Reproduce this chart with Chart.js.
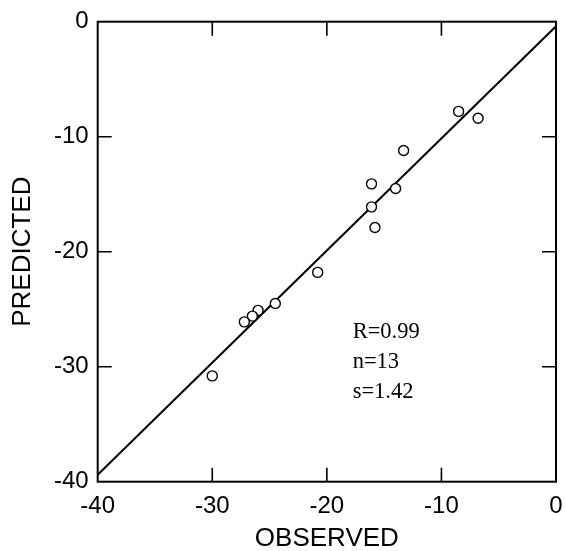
<!DOCTYPE html>
<html>
<head>
<meta charset="utf-8">
<title>Observed vs Predicted</title>
<script src="https://cdn.jsdelivr.net/npm/chart.js@4.4.1/dist/chart.umd.min.js"></script>
<style>
    html, body {
        margin: 0;
        padding: 0;
        background: #fff;
    }
    canvas {
        display: block;
    }
</style>
</head>
<body>
<canvas id="scatterChart" width="566" height="551"></canvas>
<script>
/* =========================================================
   DATA
========================================================= */
const observed = [-8.5, -6.8, -13.3, -16.1, -14.0, -16.1, -15.8, -20.8, -24.5, -26.0, -26.5, -27.2, -30.0];
const predicted = [-7.8, -8.4, -11.2, -14.1, -14.5, -16.1, -17.9, -21.8, -24.5, -25.1, -25.6, -26.1, -30.8];

// regression line end points
const fitObserved = [-40, 0];
const fitPredicted = [-39.4, -0.4];

const axisTicks = [-40, -30, -20, -10, 0];
const statsLines = ['R=0.99', 'n=13', 's=1.42'];

/* =========================================================
   HELPER
========================================================= */
function toPoints(xs, ys) {
    return xs.map((x, i) => ({ x: x, y: ys[i] }));
}

/* =========================================================
   FRAME + INWARD TICKS + STATS TEXT
========================================================= */
const framePlugin = {
    id: 'frame',
    afterDatasetsDraw(chart) {
        const { ctx, chartArea: a, scales: { x, y } } = chart;
        const tickLen = 14;

        ctx.save();
        ctx.strokeStyle = '#000';
        ctx.lineWidth = 2;
        ctx.strokeRect(a.left, a.top, a.right - a.left, a.bottom - a.top);

        ctx.lineWidth = 1.6;
        ctx.beginPath();
        axisTicks.slice(1, -1).forEach(v => {
            const px = x.getPixelForValue(v);
            const py = y.getPixelForValue(v);
            ctx.moveTo(px, a.bottom);
            ctx.lineTo(px, a.bottom - tickLen);
            ctx.moveTo(px, a.top);
            ctx.lineTo(px, a.top + tickLen);
            ctx.moveTo(a.left, py);
            ctx.lineTo(a.left + tickLen, py);
            ctx.moveTo(a.right, py);
            ctx.lineTo(a.right - tickLen, py);
        });
        ctx.stroke();

        // regression statistics
        ctx.fillStyle = '#000';
        ctx.font = '22.5px "Liberation Serif", "Times New Roman", serif';
        ctx.textAlign = 'left';
        ctx.textBaseline = 'alphabetic';
        const tx = x.getPixelForValue(-17.75);
        const ty = y.getPixelForValue(-27.5);
        statsLines.forEach((line, i) => {
            ctx.fillText(line, tx, ty + i * 30);
        });
        ctx.restore();
    }
};

/* =========================================================
   CHART INIT
========================================================= */
const tickFont = { family: '"Liberation Sans", Arial, sans-serif', size: 24 };
const titleFont = { family: '"Liberation Sans", Arial, sans-serif', size: 26, lineHeight: 1 };

const scatterChart = new Chart(
    document.getElementById('scatterChart'), {
        type: 'scatter',
        data: {
            datasets: [{
                data: toPoints(observed, predicted),
                pointStyle: 'circle',
                pointRadius: 5,
                pointBorderWidth: 1.4,
                pointBorderColor: '#000',
                pointBackgroundColor: '#fff',
                showLine: false
            }, {
                data: toPoints(fitObserved, fitPredicted),
                showLine: true,
                borderColor: '#000',
                borderWidth: 2,
                pointRadius: 0,
                fill: false
            }]
        },
        options: {
            responsive: false,
            animation: false,
            layout: {
                padding: { left: 0, top: 21.7, right: 10, bottom: 0 }
            },
            plugins: {
                legend: { display: false },
                tooltip: { enabled: false }
            },
            scales: {
                x: {
                    type: 'linear',
                    min: -40,
                    max: 0,
                    afterBuildTicks: axis => {
                        axis.ticks = axisTicks.map(v => ({ value: v }));
                    },
                    afterFit: axis => {
                        axis.height = 69.3;
                        axis.paddingLeft = 0;
                        axis.paddingRight = 0;
                    },
                    grid: { display: false, drawTicks: false },
                    border: { display: false },
                    ticks: {
                        color: '#000',
                        font: tickFont,
                        padding: 10,
                        maxRotation: 0
                    },
                    title: {
                        display: true,
                        text: 'OBSERVED',
                        color: '#000',
                        font: titleFont,
                        padding: { top: 0, bottom: -1 }
                    }
                },
                y: {
                    type: 'linear',
                    min: -40,
                    max: 0,
                    afterBuildTicks: axis => {
                        axis.ticks = axisTicks.map(v => ({ value: v }));
                    },
                    afterFit: axis => {
                        axis.width = 97.7;
                        axis.paddingTop = 0;
                        axis.paddingBottom = 0;
                    },
                    grid: { display: false, drawTicks: false },
                    border: { display: false },
                    ticks: {
                        color: '#000',
                        font: tickFont,
                        padding: 9
                    },
                    title: {
                        display: true,
                        text: 'PREDICTED',
                        color: '#000',
                        font: titleFont,
                        padding: { top: 10, bottom: 0 }
                    }
                }
            }
        },
        plugins: [framePlugin]
    }
);
</script>
</body>
</html>
